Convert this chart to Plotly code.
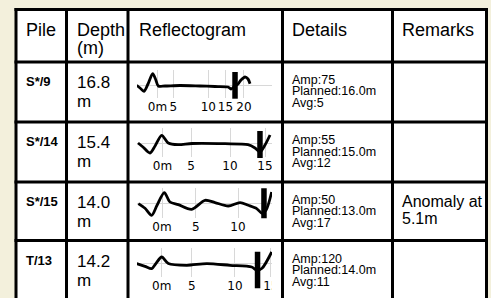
import plotly.graph_objects as go

W, H = 491, 298


def fx(px):
    return px / W


def fy(py):
    return 1 - py / H


# ---------------- data ----------------
headers = ["Pile", "Depth", "Reflectogram", "Details", "Remarks"]
header_sub = ["", "(m)", "", "", ""]
piles = ["S*/9", "S*/14", "S*/15", "T/13"]
depths = ["16.8", "15.4", "14.0", "14.2"]
depth_unit = "m"
amps = [75, 55, 50, 120]
planned = [16.0, 15.0, 13.0, 14.0]
avgs = [5, 12, 17, 11]
remarks = [[], [], ["Anomaly at", "5.1m"], []]

# tick labels of each reflectogram and where they sit (m)
tick_text_1 = ["0m", "5", "10", "15", "20"]
tick_pos_1 = [0.98, 4.2, 11.35, 14.86, 18.63]
tick_text_2 = ["0m", "5", "10", "15"]
tick_pos_2 = [1.15, 5.0, 10.27, 15.0]
tick_text_3 = ["0m", "5", "10"]
tick_pos_3 = [1.02, 5.0, 10.0]
tick_text_4 = ["0m", "5", "10", "15"]
tick_pos_4 = [1.15, 4.9, 10.31, 14.8]

# reflectogram curves: depth (m) vs relative amplitude
wave1_x = [-3.27, -2.59, -1.78, -0.96, 0.0, 0.57, 1.14, 2.51, 5.57, 9.65, 12.71, 15.37, 15.98, 16.8, 17.41, 18.02, 18.84, 19.45, 19.86]
wave1_y = [0.0, -0.27, -0.6, 0.13, 1.16, 0.63, -0.07, -0.07, -0.02, -0.07, -0.12, -0.17, -0.37, -0.07, 0.13, 0.53, 0.83, 0.63, 0.16]

wave2_x = [-2.16, -1.49, -0.54, 0.14, 1.04, 1.93, 3.24, 5.14, 9.59, 12.70, 13.65, 14.32, 15.0, 15.68]
wave2_y = [0.0, -0.4, -1.0, -0.3, 0.77, 0.0, -0.17, -0.05, -0.07, -0.17, -0.5, -0.9, -0.2, 0.8]

wave3_x = [-1.78, -0.99, -0.20, 0.43, 1.29, 1.96, 2.94, 4.53, 6.10, 7.28, 8.85, 10.24, 11.22, 12.21, 12.84, 13.31, 13.98]
wave3_y = [-0.03, -0.5, -1.2, -0.2, 1.07, 0.13, -0.13, -0.6, 0.3, 0.07, -0.27, 0.07, -0.2, -0.53, -1.0, -0.7, 1.13]

wave4_x = [-1.98, -0.94, -0.10, 0.44, 1.15, 1.98, 4.28, 6.78, 9.69, 12.4, 13.06, 13.69, 14.9]
wave4_y = [-0.03, -0.3, -0.53, 0.0, 0.63, -0.03, -0.2, -0.03, -0.2, -0.37, -0.7, -0.5, 1.13]

waves_x = [wave1_x, wave2_x, wave3_x, wave4_x]
waves_y = [wave1_y, wave2_y, wave3_y, wave4_y]
ticks_pos = [tick_pos_1, tick_pos_2, tick_pos_3, tick_pos_4]
ticks_text = [tick_text_1, tick_text_2, tick_text_3, tick_text_4]

# pile-toe markers (depth, top amplitude, bottom amplitude)
toe_x = [16.8, 14.32, 13.07, 13.13]
toe_top = [1.33, 1.2, 1.5, 1.16]
toe_bottom = [-1.34, -1.5, -1.5, -2.5]

# ---------------- geometry ----------------
col_edges = [16, 66.5, 128, 282.5, 392.5, 486.5]
row_edges = [9.5, 62, 122, 182, 240.5, 302]
bg = "#f3f0dc"
font_main = "Liberation Sans, Arial, sans-serif"
font_tick = "DejaVu Sans, Verdana, sans-serif"

plot_left, plot_right, clip_right = 137, 281, 272
baseline_px = [85.3, 143, 203.3, 263.3]
label_px = [107, 166, 227.5, 286]
zero_px = [152.7, 154, 153.4, 152.5]
px_per_m = [4.9, 7.4, 8.46, 8.0]
px_per_amp = 10.0

fig = go.Figure()
shapes = []
annotations = []

# white table body
shapes.append(dict(type="rect", xref="paper", yref="paper", layer="below",
                   x0=fx(col_edges[0]), x1=fx(col_edges[-1]),
                   y0=fy(row_edges[-1]), y1=fy(row_edges[0]),
                   fillcolor="white", line=dict(width=0)))

layout_axes = {}
for i in range(4):
    top = row_edges[i + 1]
    bot = row_edges[i + 2]
    base = baseline_px[i]
    xr = [(plot_left - zero_px[i]) / px_per_m[i], (plot_right - zero_px[i]) / px_per_m[i]]
    p_top = base - 15
    p_bot = label_px[i] - 9.5
    yr = [(base - p_bot) / px_per_amp, (base - p_top) / px_per_amp]
    o_top = top + 3
    o_bot = min(bot - 3, H)
    oyr = [(base - o_bot) / px_per_amp, (base - o_top) / px_per_amp]

    n = 2 * i + 1
    xa = "xaxis" if n == 1 else f"xaxis{n}"
    ya = "yaxis" if n == 1 else f"yaxis{n}"
    xa2 = f"xaxis{n + 1}"
    ya2 = f"yaxis{n + 1}"
    xid = "x" if n == 1 else f"x{n}"
    yid = "y" if n == 1 else f"y{n}"
    xid2 = f"x{n + 1}"
    yid2 = f"y{n + 1}"

    layout_axes[xa] = dict(domain=[fx(plot_left), fx(plot_right)], range=xr, anchor=yid,
                           tickmode="array", tickvals=ticks_pos[i], ticktext=ticks_text[i], ticks="",
                           tickangle=0, showgrid=True, gridcolor="#d8d8d8", gridwidth=1,
                           zeroline=False, showline=False, fixedrange=True,
                           tickfont=dict(family=font_tick, size=12, color="black"))
    layout_axes[ya] = dict(domain=[fy(p_bot), fy(p_top)], range=yr, anchor=xid,
                           showticklabels=False, showgrid=False, zeroline=True,
                           zerolinecolor="#d8d8d8", zerolinewidth=1, ticks="", fixedrange=True)
    layout_axes[xa2] = dict(domain=[fx(plot_left), fx(plot_right)], range=xr, anchor=yid2,
                            visible=False, fixedrange=True)
    layout_axes[ya2] = dict(domain=[fy(o_bot), fy(o_top)], range=oyr, anchor=xid2,
                            visible=False, fixedrange=True)

    fig.add_trace(go.Scatter(x=waves_x[i], y=waves_y[i], mode="lines",
                             line=dict(color="black", width=2.8, shape="spline", smoothing=0.8),
                             xaxis=xid, yaxis=yid, showlegend=False, hoverinfo="skip"))
    fig.add_trace(go.Scatter(x=[toe_x[i], toe_x[i]], y=[toe_top[i], toe_bottom[i]], mode="lines",
                             line=dict(color="black", width=5.5),
                             xaxis=xid2, yaxis=yid2, showlegend=False, hoverinfo="skip"))

    # clip cover at the right of the reflectogram
    shapes.append(dict(type="rect", xref="paper", yref="paper", layer="above",
                       x0=fx(clip_right), x1=fx(col_edges[3]),
                       y0=fy(bot), y1=fy(top), fillcolor="white", line=dict(width=0)))

# grid lines of the table
for x in col_edges:
    shapes.append(dict(type="line", xref="paper", yref="paper", layer="above",
                       x0=fx(x), x1=fx(x), y0=fy(row_edges[-1]), y1=fy(row_edges[0] - 1.5),
                       line=dict(color="black", width=3)))
for y in row_edges[:-1]:
    shapes.append(dict(type="line", xref="paper", yref="paper", layer="above",
                       x0=fx(col_edges[0] - 1.5), x1=fx(col_edges[-1] + 1.5), y0=fy(y), y1=fy(y),
                       line=dict(color="black", width=3)))


def text(px, py, s, size, bold=False, family=font_main):
    annotations.append(dict(xref="paper", yref="paper", x=fx(px), y=fy(py),
                            xanchor="left", yanchor="middle", showarrow=False,
                            text=f"<b>{s}</b>" if bold else s, borderpad=0,
                            font=dict(family=family, size=size, color="black")))


# header
header_x = [25, 75.5, 137.5, 290.5, 400.5]
for j, h in enumerate(headers):
    text(header_x[j], 30, h, 18)
    if header_sub[j]:
        text(header_x[j], 48, header_sub[j], 18)

for i in range(4):
    top = row_edges[i + 1]
    text(24.5, top + 19.5, piles[i], 13, bold=True)
    text(75.5, top + 20.5, depths[i], 17)
    text(75.5, top + 39.5, depth_unit, 17)
    text(290.5, top + 18, f"Amp:{amps[i]}", 12.5)
    text(290.5, top + 29.5, f"Planned:{planned[i]:.1f}m", 12.5)
    text(290.5, top + 41, f"Avg:{avgs[i]}", 12.5)
    for k, r in enumerate(remarks[i]):
        text(400.5, top + 19 + 17.5 * k, r, 16)

fig.update_layout(width=W, height=H, margin=dict(l=0, r=0, t=0, b=0),
                  paper_bgcolor=bg, plot_bgcolor="rgba(0,0,0,0)",
                  shapes=shapes, annotations=annotations, **layout_axes)

fig.write_html("out.html", config={"displayModeBar": False},
               post_script="document.body.style.margin='0';document.body.style.overflow='hidden';")
